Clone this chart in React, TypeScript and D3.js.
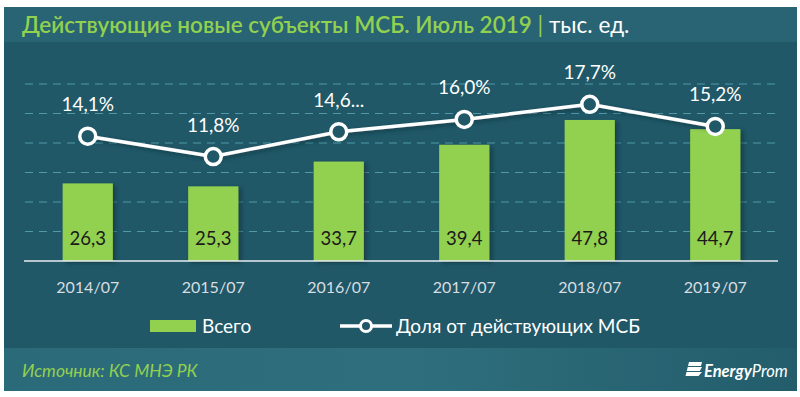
import * as d3 from 'd3'

const categories = ['2014/07', '2015/07', '2016/07', '2017/07', '2018/07', '2019/07']
const totals = [26.3, 25.3, 33.7, 39.4, 47.8, 44.7]
const shares = [14.1, 11.8, 14.6, 16.0, 17.7, 15.2]
const shareLabels = ['14,1%', '11,8%', '14,6...', '16,0%', '17,7%', '15,2%']
const gridTicks = [0, 10, 20, 30, 40, 50, 60]

const W = 800
const H = 397
const font = 'Lato, "Open Sans", sans-serif'
const bg = '#205868'
const green = '#92d050'

const fmt = (v: number) => v.toFixed(1).replace('.', ',')

export default function App() {
  const x = d3.scaleBand().domain(categories).range([25, 778]).paddingInner(0.6).paddingOuter(0.3)
  const y = d3.scaleLinear().domain([0, 60]).range([261, 84])
  const y2 = d3.scaleLinear().domain([0, 20]).range([261, 84])
  const cx = (c: string) => (x(c) ?? 0) + x.bandwidth() / 2

  const line = d3.line<number>()
    .x((_, i) => cx(categories[i]))
    .y(d => y2(d))

  return (
    <svg width={W} height={H} style={{ position: 'absolute', left: 0, top: 0 }}>
      <defs>
        <linearGradient id="foot" x1="0" x2="1" y1="0" y2="0">
          <stop offset="0" stopColor="#2b6a78" />
          <stop offset="0.5" stopColor="#2f6f7d" />
          <stop offset="1" stopColor="#235d6c" />
        </linearGradient>
        <filter id="shadow" x="-20%" y="-20%" width="150%" height="150%">
          <feDropShadow dx="3" dy="2" stdDeviation="2" floodColor="#0a2a33" floodOpacity="0.6" />
        </filter>
      </defs>

      <rect x={0} y={0} width={W} height={H} fill="#ffffff" />
      <rect x={4} y={7} width={793} height={384} fill={bg} />
      <rect x={4} y={7} width={793} height={35} fill="#286473" />
      <rect x={4} y={348} width={793} height={43} fill="url(#foot)" />

      <text x={22} y={33} fontFamily={font} fontSize={22.5}>
        <tspan fill={green} fontWeight={600}>Действующие новые субъекты МСБ. Июль 2019</tspan>
        <tspan fill={green}> | </tspan>
        <tspan fill="#ffffff">тыс. ед.</tspan>
      </text>

      {gridTicks.slice(1).map(t => (
        <line key={t} x1={25} x2={778} y1={y(t)} y2={y(t)}
          stroke="#4f99a8" strokeWidth={1} strokeDasharray="8,6" />
      ))}

      {categories.map((c, i) => (
        <rect key={c} x={x(c)} y={y(totals[i])} width={x.bandwidth()}
          height={y(0) - y(totals[i])} fill={green} filter="url(#shadow)" />
      ))}

      <line x1={24} x2={778} y1={y(0)} y2={y(0)} stroke="#e8eef0" strokeWidth={1.5} />

      {categories.map((c, i) => (
        <text key={c} x={cx(c)} y={245} textAnchor="middle" fontFamily={font}
          fontSize={18.5} fill="#1a1a1a">{fmt(totals[i])}</text>
      ))}

      {categories.map(c => (
        <text key={c} x={cx(c)} y={293} textAnchor="middle" fontFamily={font}
          fontSize={16} fill="#d8dde0">{c}</text>
      ))}

      <path d={line(shares) ?? ''} fill="none" stroke="#ffffff" strokeWidth={3.5} filter="url(#shadow)" />
      {categories.map((c, i) => (
        <circle key={c} cx={cx(c)} cy={y2(shares[i])} r={8} fill={bg}
          stroke="#ffffff" strokeWidth={3.5} />
      ))}
      {categories.map((c, i) => (
        <text key={c} x={cx(c)} y={y2(shares[i]) - 25} textAnchor="middle" fontFamily={font}
          fontSize={19} fill="#ffffff">{shareLabels[i]}</text>
      ))}

      <rect x={150} y={320} width={46} height={12} fill={green} />
      <text x={202} y={333} fontFamily={font} fontSize={19} fill="#ffffff">Всего</text>
      <line x1={340} x2={392} y1={326} y2={326} stroke="#ffffff" strokeWidth={3.5} />
      <circle cx={366} cy={326} r={5.5} fill={bg} stroke="#ffffff" strokeWidth={3} />
      <text x={396} y={333} fontFamily={font} fontSize={19} fill="#ffffff">Доля от действующих МСБ</text>

      <text x={22} y={377} fontFamily={font} fontSize={17.5} fontStyle="italic" fill={green}>Источник: КС МНЭ РК</text>

      <g transform="translate(686,362)">
        {[0, 5, 10].map(d => (
          <path key={d} d={`M${3 - d * 0.25},${d} L16,${d} L${15 - d * 0.25},${d + 4} L${2 - d * 0.25},${d + 4} Z`} fill="#ffffff" />
        ))}
      </g>
      <text x={704} y={377} fontFamily={font} fontSize={16.5} fontStyle="italic" fill="#ffffff">
        <tspan fontWeight={700}>Energy</tspan><tspan>Prom</tspan>
      </text>
    </svg>
  )
}
